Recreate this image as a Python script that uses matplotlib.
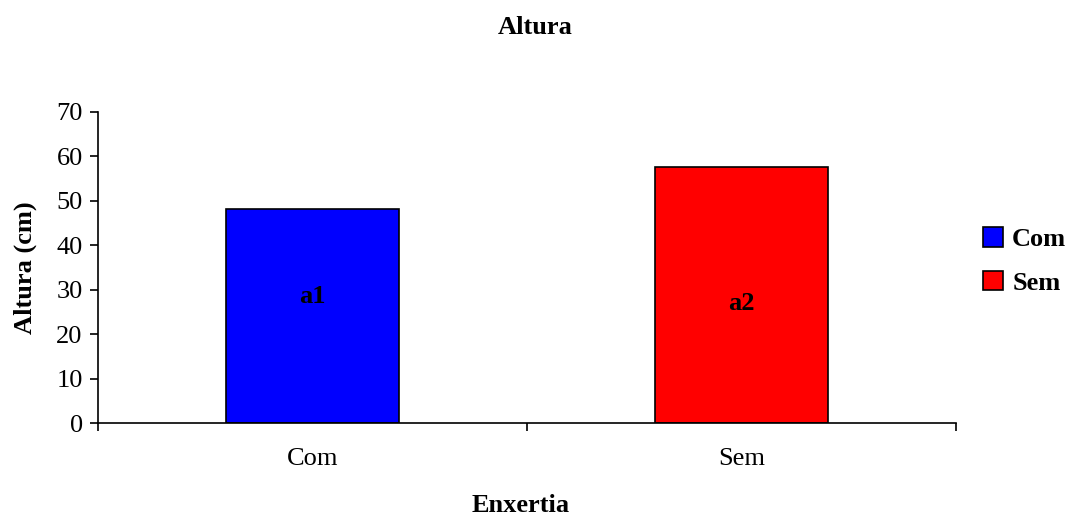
import matplotlib.pyplot as plt
from matplotlib.patches import Patch

# Data
categories = ['Com', 'Sem']
altura = [48.2, 57.6]
bar_colors = ['#0000ff', '#ff0000']
bar_labels = ['a1', 'a2']
label_heights = [28.4, 27.0]
y_ticks = [0, 10, 20, 30, 40, 50, 60, 70]

plt.rcParams['font.family'] = ['Liberation Serif', 'DejaVu Serif']
fs = 19

fig = plt.figure(figsize=(10.66, 5.15), dpi=100)
ax = fig.add_axes([0.0919, 0.1786, 0.805, 0.604])

x = list(range(len(categories)))
ax.bar(x, altura, width=0.405, color=bar_colors, edgecolor='black', linewidth=1.2)

# Letters inside the bars
for xi, lab, ly in zip(x, bar_labels, label_heights):
    ax.text(xi, ly, lab, ha='center', va='center', fontsize=fs, fontweight='bold')

ax.set_xlim(-0.5, 1.5)
ax.set_ylim(0, 70)
ax.set_yticks(y_ticks)
ax.set_xticks([-0.5, 0.5, 1.5], minor=False)
ax.set_xticklabels(['', '', ''])
ax.set_xticks(x, minor=True)
ax.set_xticklabels(categories, minor=True)
ax.tick_params(axis='x', which='minor', length=0, labelsize=fs, pad=18)
ax.tick_params(axis='x', which='major', length=6, width=1.2, direction='out')
ax.tick_params(axis='y', length=6, width=1.2, direction='out', labelsize=fs, pad=5)

ax.spines['top'].set_visible(False)
ax.spines['right'].set_visible(False)
ax.spines['left'].set_linewidth(1.2)
ax.spines['bottom'].set_linewidth(1.2)

ax.set_ylabel('Altura (cm)', fontsize=fs, fontweight='bold', labelpad=14)
fig.text(0.488, 0.019, 'Enxertia', ha='center', va='center', fontsize=fs, fontweight='bold')
fig.text(0.502, 0.946, 'Altura', ha='center', va='center', fontsize=fs, fontweight='bold')

handles = [Patch(facecolor=c, edgecolor='black', linewidth=1.2) for c in bar_colors]
fig.legend(handles, categories, loc='center left', bbox_to_anchor=(0.9, 0.493),
           frameon=False, prop={'size': fs, 'weight': 'bold'},
           handlelength=0.75, handleheight=0.75, handletextpad=0.35, labelspacing=0.75)

fig.savefig('out.png', dpi=100)
